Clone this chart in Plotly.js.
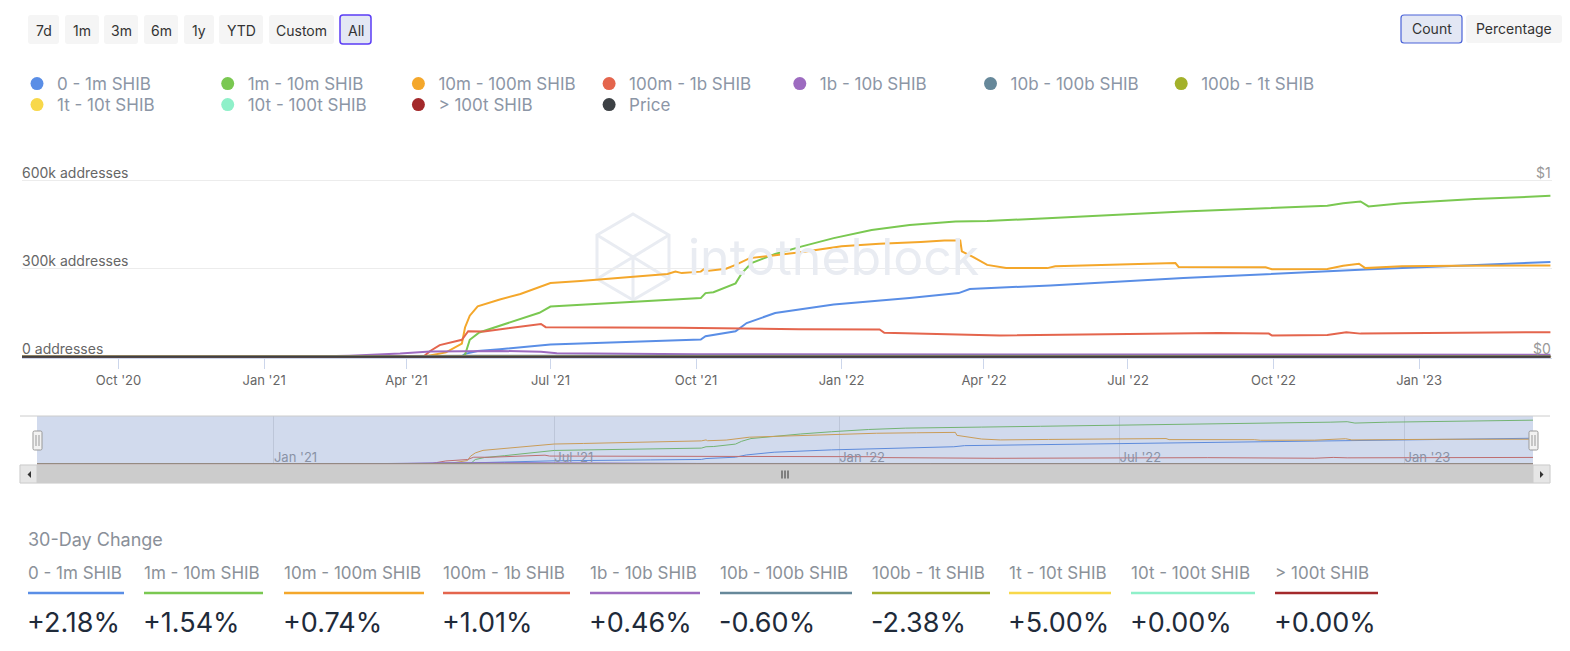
<!DOCTYPE html>
<html><head><meta charset="utf-8">
<script src="https://cdn.plot.ly/plotly-3.0.1.min.js"></script>
<style>html,body{margin:0;padding:0;background:#fff;overflow:hidden}#chart{width:1570px;height:651px}</style>
</head><body><div id="chart"></div>
<script>
// ---------------- DATA ----------------
const seriesNames = ['0 - 1m SHIB','1m - 10m SHIB','10m - 100m SHIB','100m - 1b SHIB','1b - 10b SHIB','10b - 100b SHIB','100b - 1t SHIB','1t - 10t SHIB','10t - 100t SHIB','> 100t SHIB'];
const seriesColors = ['#5a8ee6','#7ac851','#f4a72b','#e4654d','#9d6bc0','#66889a','#a3b12a','#f8d84a','#8ff0c9','#a3292b'];
const priceName = 'Price';
const priceColor = '#3d4145';

const dates_0_1m = ['2020-08-01','2021-05-06','2021-05-08','2021-05-16','2021-05-30','2021-07-01','2021-09-01','2021-10-04','2021-10-07','2021-10-26','2021-11-02','2021-11-20','2021-12-27','2022-02-13','2022-03-16','2022-03-23','2022-05-13','2022-08-05','2022-11-28','2023-03-25'];
const values_0_1m = [0,2000,10000,20000,26000,42000,53000,59000,70000,87000,115000,149000,178000,200000,217000,231000,243000,268000,297000,323000];

const dates_1m_10m = ['2020-08-01','2021-05-06','2021-05-08','2021-05-11','2021-05-17','2021-05-30','2021-06-24','2021-07-01','2021-07-20','2021-08-14','2021-08-27','2021-09-16','2021-10-04','2021-10-07','2021-10-12','2021-10-26','2021-10-30','2021-11-05','2021-11-20','2021-12-07','2021-12-27','2022-01-20','2022-02-13','2022-03-14','2022-04-03','2022-05-11','2022-08-05','2022-11-04','2022-11-14','2022-11-25','2022-11-30','2022-12-21','2023-02-05','2023-03-25'];
const values_1m_10m = [0,0,7000,58000,83000,106000,150000,171000,177000,184000,190000,196000,200000,217000,220000,250000,285000,319000,350000,376000,404000,432000,449000,461000,462000,472000,495000,514000,523000,529000,512000,523000,537000,548000];

const dates_10m_100m = ['2020-08-01','2021-03-01','2021-04-14','2021-04-26','2021-05-06','2021-05-08','2021-05-11','2021-05-16','2021-05-24','2021-05-30','2021-06-12','2021-06-24','2021-07-01','2021-07-20','2021-08-14','2021-09-02','2021-09-13','2021-09-18','2021-09-22','2021-10-04','2021-10-07','2021-10-08','2021-10-20','2021-10-26','2021-11-04','2021-11-20','2021-12-06','2022-01-01','2022-01-25','2022-02-20','2022-03-07','2022-03-17','2022-03-18','2022-03-25','2022-04-03','2022-04-15','2022-05-11','2022-05-16','2022-07-31','2022-08-02','2022-09-26','2022-09-30','2022-11-04','2022-11-14','2022-11-24','2022-11-28','2022-12-21','2023-01-24','2023-03-25'];
const values_10m_100m = [0,1000,3000,15000,45000,100000,140000,172000,186000,195000,214000,236000,251000,258000,268000,278000,282000,290000,285000,290000,302000,292000,300000,313000,336000,346000,356000,376000,385000,391000,396000,396000,359000,340000,313000,302000,302000,308000,319000,306000,305000,298000,299000,310000,317000,302000,308000,310000,311000];

const dates_100m_1b = ['2020-08-01','2021-04-12','2021-04-16','2021-04-22','2021-05-06','2021-05-10','2021-05-20','2021-06-25','2021-06-28','2021-09-20','2021-12-05','2022-01-25','2022-01-28','2022-03-10','2022-04-11','2022-08-27','2022-09-28','2022-09-30','2022-11-04','2022-11-16','2022-11-25','2023-03-25'];
const values_100m_1b = [0,2000,20000,40000,58000,87000,86000,112000,101000,99000,94000,93000,82000,76000,73000,81000,79000,73000,74000,84000,79000,84000];

const dates_1b_10b = ['2020-08-01','2021-01-20','2021-02-24','2021-03-28','2021-04-16','2021-05-30','2021-06-25','2021-07-05','2021-10-01','2022-03-01','2023-03-25'];
const values_1b_10b = [0,0,4000,11000,18000,20000,17000,12000,9000,8000,7000];

const dates_10b_100b = ['2020-08-01','2021-01-20','2021-03-28','2021-05-15','2023-03-25'];
const values_10b_100b = [0,0,2500,3500,3000];

const dates_100b_1t = ['2020-08-01','2021-01-20','2021-04-15','2023-03-25'];
const values_100b_1t = [0,0,400,350];

const dates_1t_10t = ['2020-08-01','2021-04-15','2023-03-25'];
const values_1t_10t = [0,40,45];

const dates_10t_100t = ['2020-08-01','2023-03-25'];
const values_10t_100t = [2,2];

const dates_gt_100t = ['2020-08-01','2023-03-25'];
const values_gt_100t = [1,1];

const priceDates = ['2020-08-01','2020-11-01','2021-02-01','2021-04-01','2021-05-10','2021-06-01','2021-08-01','2021-10-28','2021-12-01','2022-02-01','2022-04-01','2022-06-01','2022-08-15','2022-10-01','2022-12-01','2023-02-01','2023-03-25'];
const priceValues = [0.000000001,0.000000002,0.00000001,0.0000005,0.000035,0.000009,0.000008,0.00008,0.000042,0.000027,0.000025,0.000009,0.000014,0.000011,0.000009,0.000013,0.000011];

const xTickVals = ['2020-10-01','2021-01-01','2021-04-01','2021-07-01','2021-10-01','2022-01-01','2022-04-01','2022-07-01','2022-10-01','2023-01-01'];
const xTickText = ["Oct '20","Jan '21","Apr '21","Jul '21","Oct '21","Jan '22","Apr '22","Jul '22","Oct '22","Jan '23"];
const navTickVals = ['2021-01-01','2021-07-01','2022-01-01','2022-07-01','2023-01-01'];
const navTickText = ["Jan '21","Jul '21","Jan '22","Jul '22","Jan '23"];
const yTickVals = [0,300000,600000];
const yTickText = ['0 addresses','300k addresses','600k addresses'];
const priceTickVals = [0,1];
const priceTickText = ['$0','$1'];

const rangeButtons = ['7d','1m','3m','6m','1y','YTD','Custom','All'];
const modeButtons = ['Count','Percentage'];
const changeTitle = '30-Day Change';
const changeValues = ['+2.18%','+1.54%','+0.74%','+1.01%','+0.46%','-0.60%','-2.38%','+5.00%','+0.00%','+0.00%'];
const watermarkText = 'intotheblock';

const seriesDates = [dates_0_1m,dates_1m_10m,dates_10m_100m,dates_100m_1b,dates_1b_10b,dates_10b_100b,dates_100b_1t,dates_1t_10t,dates_10t_100t,dates_gt_100t];
const seriesValues = [values_0_1m,values_1m_10m,values_10m_100m,values_100m_1b,values_1b_10b,values_10b_100b,values_100b_1t,values_1t_10t,values_10t_100t,values_gt_100t];

// ---------------- LAYOUT HELPERS ----------------
const W = 1570, H = 651;
const X = p => p / W;
const Y = p => 1 - p / H;
const FONT = 'Inter, "Noto Sans", "DejaVu Sans", sans-serif';

function rr(x0, y0, x1, y1, r) {
  const rx = r / W, ry = r / H;
  const a = X(x0), b = X(x1), c = Y(y0), d = Y(y1);
  return `M${a+rx},${c} L${b-rx},${c} Q${b},${c} ${b},${c-ry} L${b},${d+ry} Q${b},${d} ${b-rx},${d} L${a+rx},${d} Q${a},${d} ${a},${d+ry} L${a},${c-ry} Q${a},${c} ${a+rx},${c} Z`;
}
function poly(pts) {
  return 'M' + pts.map(p => `${X(p[0])},${Y(p[1])}`).join(' L') + ' Z';
}

// ---------------- TRACES ----------------
const traces = [];
seriesNames.forEach((n, i) => {
  traces.push({type:'scatter', mode:'lines', name:n, x:seriesDates[i], y:seriesValues[i], xaxis:'x', yaxis:'y',
    line:{color:seriesColors[i], width:2}, showlegend:false, hoverinfo:'skip'});
});
traces.push({type:'scatter', mode:'lines', name:priceName, x:priceDates, y:priceValues, xaxis:'x', yaxis:'y2',
  line:{color:priceColor, width:2}, showlegend:false, hoverinfo:'skip'});
// navigator
seriesNames.forEach((n, i) => {
  traces.push({type:'scatter', mode:'lines', name:n, x:seriesDates[i], y:seriesValues[i], xaxis:'x3', yaxis:'y3',
    line:{color:seriesColors[i], width:1}, showlegend:false, hoverinfo:'skip'});
});
// legend entries (circle markers)
const legendNames = seriesNames.concat([priceName]);
const legendColors = seriesColors.concat([priceColor]);
legendNames.forEach((n, i) => {
  traces.push({type:'scatter', mode:'markers', name:n, x:[null], y:[null], xaxis:'x', yaxis:'y',
    marker:{color:legendColors[i], size:13, symbol:'circle'}, showlegend:true,
    legend: i < 7 ? 'legend' : 'legend2', hoverinfo:'skip'});
});

// ---------------- SHAPES & ANNOTATIONS ----------------
const shapes = [], annotations = [];

// y-axis labels (placed through the axis scales, above each gridline)
yTickVals.forEach((v, i) => {
  annotations.push({xref:'paper', yref:'y', x:X(20), y:v, yshift:-2, text:yTickText[i], showarrow:false, xanchor:'left', yanchor:'bottom',
    font:{family:FONT, size:14, color:'#666'}});
});
priceTickVals.forEach((v, i) => {
  annotations.push({xref:'paper', yref:'y2', x:X(1553), y:v, yshift:-2, text:priceTickText[i], showarrow:false, xanchor:'right', yanchor:'bottom',
    font:{family:FONT, size:14, color:'#999'}});
});

// range buttons
const rbX = [[28,59],[65,99],[104,138],[144,178],[184,214],[219,263],[269,334],[340,371]];
rangeButtons.forEach((t, i) => {
  const sel = t === 'All';
  shapes.push({type:'path', xref:'paper', yref:'paper', path:rr(rbX[i][0],15,rbX[i][1],44,3),
    fillcolor: sel ? '#e3e7f4' : '#f5f5f5', line:{color: sel ? '#5b3df5' : 'rgba(0,0,0,0)', width: sel ? 1.5 : 0}, layer:'above'});
  annotations.push({xref:'paper', yref:'paper', x:X((rbX[i][0]+rbX[i][1])/2), y:Y(30), text:t, showarrow:false,
    xanchor:'center', yanchor:'middle', font:{family:FONT, size:14, color:'#333'}});
});
const mbX = [[1401,1462],[1466,1562]];
modeButtons.forEach((t, i) => {
  const sel = t === 'Count';
  shapes.push({type:'path', xref:'paper', yref:'paper', path:rr(mbX[i][0],15,mbX[i][1],43,3),
    fillcolor: sel ? '#e3e7f4' : '#f5f5f5', line:{color: sel ? '#4a63d8' : 'rgba(0,0,0,0)', width: sel ? 1.2 : 0}, layer:'above'});
  annotations.push({xref:'paper', yref:'paper', x:X((mbX[i][0]+mbX[i][1])/2), y:Y(29), text:t, showarrow:false,
    xanchor:'center', yanchor:'middle', font:{family:FONT, size:14, color:'#333'}});
});

// watermark
const wmC = '#e9ecf2';
shapes.push({type:'path', xref:'paper', yref:'paper', layer:'below', line:{color:wmC, width:3}, fillcolor:'rgba(0,0,0,0)',
  path: poly([[633,214],[669,235],[669,279],[633,300],[597,279],[597,235]])});
shapes.push({type:'path', xref:'paper', yref:'paper', layer:'below', line:{color:wmC, width:3},
  path: `M${X(597)},${Y(235)} L${X(633)},${Y(257)} L${X(669)},${Y(235)} M${X(633)},${Y(257)} L${X(633)},${Y(300)} M${X(597)},${Y(279)} L${X(633)},${Y(257)} L${X(669)},${Y(279)}`});
annotations.push({xref:'paper', yref:'paper', x:X(686), y:Y(257), text:watermarkText, showarrow:false, xanchor:'left', yanchor:'middle',
  font:{family:FONT, size:50, color:wmC}});

// navigator
shapes.push({type:'rect', xref:'paper', yref:'paper', x0:X(37), x1:X(1533), y0:Y(465), y1:Y(416), fillcolor:'rgba(102,133,194,0.3)', line:{width:0}, layer:'above'});
shapes.push({type:'line', xref:'paper', yref:'paper', x0:X(20), x1:X(1550), y0:Y(416), y1:Y(416), line:{color:'#cccccc', width:1}, layer:'above'});
// scrollbar
shapes.push({type:'rect', xref:'paper', yref:'paper', x0:X(20), x1:X(1550), y0:Y(483), y1:Y(465), fillcolor:'#f2f2f2', line:{color:'#f2f2f2', width:1}, layer:'above'});
shapes.push({type:'rect', xref:'paper', yref:'paper', x0:X(37), x1:X(1533), y0:Y(483), y1:Y(465), fillcolor:'#cccccc', line:{color:'#cccccc', width:1}, layer:'above'});
[[20,37],[1533,1550]].forEach(b => {
  shapes.push({type:'rect', xref:'paper', yref:'paper', x0:X(b[0]), x1:X(b[1]), y0:Y(483), y1:Y(465), fillcolor:'#e6e6e6', line:{color:'#cccccc', width:1}, layer:'above'});
});
shapes.push({type:'path', xref:'paper', yref:'paper', path:poly([[31,471],[31,478],[27.5,474.5]]), fillcolor:'#333', line:{width:0}, layer:'above'});
shapes.push({type:'path', xref:'paper', yref:'paper', path:poly([[1540,471],[1540,478],[1543.5,474.5]]), fillcolor:'#333', line:{width:0}, layer:'above'});
[782,785,788].forEach(x => {
  shapes.push({type:'line', xref:'paper', yref:'paper', x0:X(x), x1:X(x), y0:Y(470.5), y1:Y(478.5), line:{color:'#333', width:1}, layer:'above'});
});
// handles
[37.5,1533.5].forEach(cx => {
  shapes.push({type:'path', xref:'paper', yref:'paper', path:rr(cx-4.5,431,cx+4.5,450,1.5), fillcolor:'#f2f2f2', line:{color:'#999999', width:1}, layer:'above'});
  [cx-1.5, cx+1.5].forEach(x => shapes.push({type:'line', xref:'paper', yref:'paper', x0:X(x), x1:X(x), y0:Y(435), y1:Y(446), line:{color:'#999999', width:1}, layer:'above'}));
});

// 30-day change table
annotations.push({xref:'paper', yref:'paper', x:X(26), y:Y(539), text:changeTitle, showarrow:false, xanchor:'left', yanchor:'middle',
  font:{family:FONT, size:18, color:'#8a9099'}});
const colX = [[28,124],[144,263],[284,424],[443,570],[590,700],[720,852],[872,990],[1009,1111],[1131,1255],[1275,1378]];
seriesNames.forEach((n, i) => {
  annotations.push({xref:'paper', yref:'paper', x:X(colX[i][0]-2), y:Y(573), text:n, showarrow:false, xanchor:'left', yanchor:'middle',
    font:{family:FONT, size:17, color:'#8b9199'}});
  shapes.push({type:'line', xref:'paper', yref:'paper', x0:X(colX[i][0]), x1:X(colX[i][1]), y0:Y(593), y1:Y(593),
    line:{color:seriesColors[i], width:2.5}, layer:'above'});
  annotations.push({xref:'paper', yref:'paper', x:X(colX[i][0]-3), y:Y(622), text:changeValues[i], showarrow:false, xanchor:'left', yanchor:'middle',
    font:{family:FONT, size:27, color:'#1f2b3a'}});
});

// ---------------- LAYOUT ----------------
const legendCommon = {orientation:'h', xanchor:'left', yanchor:'top', entrywidth:145.7, entrywidthmode:'pixels',
  font:{family:FONT, size:17, color:'#8c96a6'}, bgcolor:'rgba(0,0,0,0)', borderwidth:0, itemclick:false, itemdoubleclick:false};

const layout = {
  width:W, height:H, margin:{l:0, r:0, t:0, b:0, pad:0},
  paper_bgcolor:'#ffffff', plot_bgcolor:'rgba(0,0,0,0)',
  font:{family:FONT, color:'#666'},
  hovermode:false, showlegend:true,
  xaxis:{domain:[X(22), X(1552)], anchor:'y', type:'date', range:['2020-08-01','2023-03-26'],
    tickmode:'array', tickvals:xTickVals, ticktext:xTickText, ticks:'outside', ticklen:10, tickwidth:1, tickcolor:'#ccd6eb',
    showline:true, linecolor:'#ccd6eb', linewidth:1, showgrid:false, zeroline:false,
    tickfont:{family:FONT, size:13, color:'#666'}, fixedrange:true},
  yaxis:{domain:[Y(358), Y(160)], anchor:'x', range:[-4000, 670000], tickmode:'array', tickvals:yTickVals, ticktext:yTickText,
    showticklabels:false, showgrid:true, gridcolor:'#ececec', gridwidth:1, zeroline:false, showline:false, ticks:'', fixedrange:true},
  yaxis2:{overlaying:'y', side:'right', anchor:'x', range:[-4000/600000, 670000/600000], tickmode:'array',
    tickvals:priceTickVals, ticktext:priceTickText, showticklabels:false, showgrid:false, zeroline:false, showline:false, ticks:'', fixedrange:true},
  xaxis3:{domain:[X(37), X(1533)], anchor:'y3', type:'date', range:['2020-08-01','2023-03-25'],
    tickmode:'array', tickvals:navTickVals, ticktext:navTickText, ticklabelposition:'inside right', ticks:'',
    showgrid:true, gridcolor:'#e2e2e2', showline:false, zeroline:false,
    tickfont:{family:FONT, size:13, color:'#999'}, fixedrange:true},
  yaxis3:{domain:[Y(471), Y(416)], anchor:'x3', range:[-85000, 600000], visible:false, fixedrange:true},
  legend:Object.assign({x:X(17), y:Y(66)}, legendCommon),
  legend2:Object.assign({x:X(17), y:Y(87)}, legendCommon),
  shapes:shapes, annotations:annotations
};

Plotly.newPlot('chart', traces, layout, {displayModeBar:false, staticPlot:true, responsive:false});
</script>
</body></html>
